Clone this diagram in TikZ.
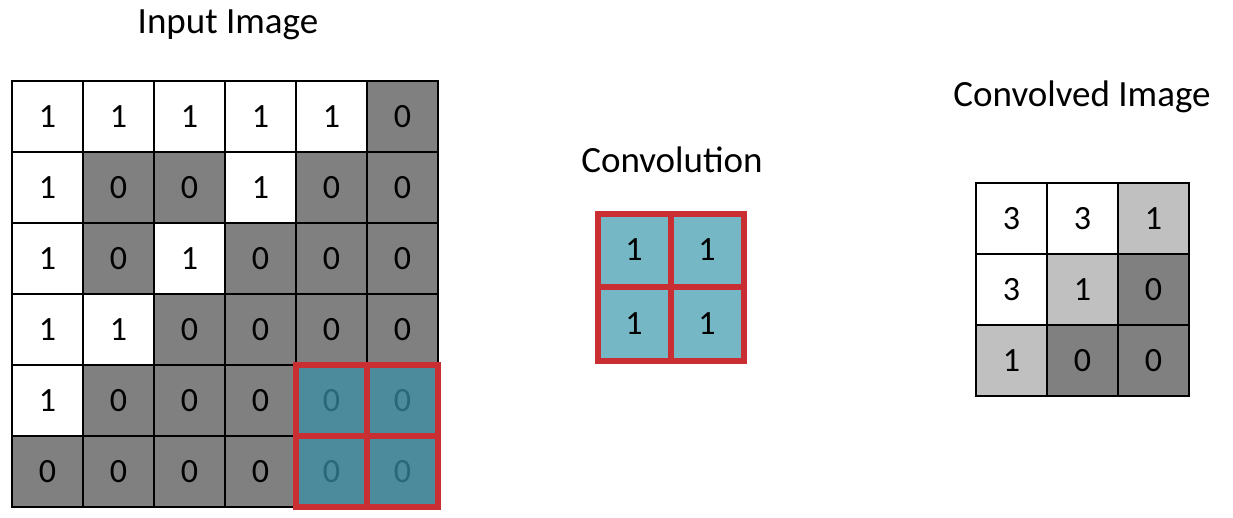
\documentclass[tikz,border=0pt]{standalone}
\usepackage{fontspec}
\setmainfont{Carlito}
\usetikzlibrary{positioning}

\definecolor{cellgray}{RGB}{128,128,128}
\definecolor{lightgray}{RGB}{192,192,192}
\definecolor{tealdark}{RGB}{76,139,155}
\definecolor{tealtext}{RGB}{42,104,120}
\definecolor{teallight}{RGB}{118,183,198}
\definecolor{framered}{RGB}{200,46,50}

\begin{document}
\begin{tikzpicture}[
    x=1pt, y=-1pt,
    cell/.style={draw, line width=1.4pt, minimum size=71pt, inner sep=0pt, outer sep=0pt, font=\fontsize{34}{34}\selectfont},
    wc/.style={cell, fill=white},
    gc/.style={cell, fill=cellgray},
    lc/.style={cell, fill=lightgray},
    tc/.style={cell, fill=tealdark, text=tealtext},
    kc/.style={cell, draw=none, fill=teallight, minimum size=73pt},
    title/.style={font=\fontsize{37}{40}\selectfont},
    kframe/.style={draw=framered, line width=6pt}
]
    \useasboundingbox (0,0) rectangle (1233,517);

    % Titles
    \node[title] (ttl-in) at (228,25) {Input Image};
    \node[title] (ttl-kern) at (672,160) {Convolution};
    \node[title] (ttl-out) at (1082,97) {Convolved Image};

    % Input image, 6x6
    \foreach \vals [count=\r] in {
        {1/wc,1/wc,1/wc,1/wc,1/wc,0/gc},
        {1/wc,0/gc,0/gc,1/wc,0/gc,0/gc},
        {1/wc,0/gc,1/wc,0/gc,0/gc,0/gc},
        {1/wc,1/wc,0/gc,0/gc,0/gc,0/gc},
        {1/wc,0/gc,0/gc,0/gc,0/tc,0/tc},
        {0/gc,0/gc,0/gc,0/gc,0/tc,0/tc}}{
        \foreach \v/\s [count=\c] in \vals {
            \node[\s] (in-\r-\c) at ({47.5+71*(\c-1)},{116.5+71*(\r-1)}) {\v};
        }
    }

    % Window over the input
    \draw[kframe] (in-5-5.north west) rectangle (in-6-6.south east);
    \draw[kframe] (in-5-5.north east) -- (in-6-5.south east);
    \draw[kframe] (in-5-5.south west) -- (in-5-6.south east);

    % Kernel, 2x2
    \node[kc] (k-1-1) at (634,250) {1};
    \node[kc] (k-1-2) at (707,250) {1};
    \node[kc] (k-2-1) at (634,324) {1};
    \node[kc] (k-2-2) at (707,324) {1};
    \draw[kframe] (k-1-1.north west) rectangle (k-2-2.south east);
    \draw[kframe] (k-1-1.north east) -- (k-2-1.south east);
    \draw[kframe] (k-1-1.south west) -- (k-1-2.south east);

    % Convolved image, 3x3
    \foreach \vals [count=\r] in {
        {3/wc,3/wc,1/lc},
        {3/wc,1/lc,0/gc},
        {1/lc,0/gc,0/gc}}{
        \foreach \v/\s [count=\c] in \vals {
            \node[\s] (out-\r-\c) at ({1011.5+71*(\c-1)},{218.5+71*(\r-1)}) {\v};
        }
    }
\end{tikzpicture}
\end{document}
